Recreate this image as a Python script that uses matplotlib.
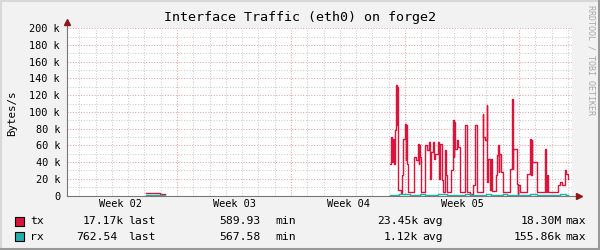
import numpy as np
import matplotlib
matplotlib.use("Agg")
import matplotlib.pyplot as plt
from matplotlib.patches import Rectangle
from matplotlib.lines import Line2D

nan = np.nan

# x axis in days, day 0 = start of week 02
title = "Interface Traffic (eth0) on forge2"
week_labels = ["Week 02", "Week 03", "Week 04", "Week 05"]
week_mid = [3.5, 10.5, 17.5, 24.5]
week_starts = [7, 14, 21, 28]
y_ticks = [0, 20, 40, 60, 80, 100, 120, 140, 160, 180, 200]   # k Bytes/s

# tx (k Bytes/s), step values starting at each day
tx_days = [0.25, 5.10, 5.96, 6.26,
           20.08, 20.12, 20.22, 20.26, 20.30, 20.39, 20.45, 20.49, 20.52, 20.55,
           20.75, 20.83, 20.90, 21.00, 21.04, 21.07, 21.10, 21.20, 21.57, 21.66,
           21.78, 21.83, 21.87, 21.90, 21.98, 22.23, 22.33, 22.49, 22.54, 22.60,
           22.74, 22.79, 22.84, 23.04, 23.09, 23.15, 23.25, 23.35, 23.46, 23.51,
           23.56, 23.82, 23.93, 23.98, 24.02, 24.07, 24.17, 24.27, 24.38, 24.68,
           24.83, 24.99, 25.19, 25.30, 25.44, 25.77, 25.81, 25.91, 26.02, 26.06,
           26.11, 26.22, 26.27, 26.32, 26.59, 26.63, 26.69, 26.74, 26.79, 26.89,
           27.04, 27.45, 27.55, 27.60, 27.65, 27.86, 27.91, 27.96, 28.06, 28.47,
           28.67, 28.72, 28.77, 28.82, 29.09, 29.60, 29.65, 29.70, 29.80, 30.41,
           30.52, 30.62, 30.72, 30.82, 30.89, 30.99, 31.03]
tx_k = [nan, 3.5, 1.5, nan,
        38, 70, 40, 68, 38, 78, 132, 84, 130, 6,
        3, 24, 68, 86, 42, 84, 38, 4, 46, 42,
        62, 38, 60, 46, 4, 60, 55, 64, 20, 52,
        64, 44, 50, 64, 20, 62, 18, 4, 54, 24,
        4, 30, 90, 46, 88, 56, 66, 58, 4, 84,
        4, 2, 12, 84, 4, 98, 70, 66, 108, 16,
        44, 6, 44, 5, 24, 48, 60, 28, 50, 28,
        4, 32, 116, 32, 56, 14, 2, 12, 4, 26,
        68, 24, 66, 40, 4, 56, 4, 24, 4, 12,
        16, 13, 12, 30, 26, 20, nan]

rx_days = [0.25, 5.10, 5.75, 5.80, 6.26,
           20.08, 20.60, 21.30, 21.90, 22.23, 23.00, 23.60, 24.68, 25.00,
           25.98, 26.30, 27.00, 27.25, 28.67, 29.09, 30.52, 30.90, 31.03]
rx_k = [nan, 1.0, 0.0, 1.0, nan,
        0.8, 2.2, 0.8, 2.2, 0.8, 2.2, 0.8, 2.2, 0.8,
        2.2, 0.8, 2.2, 0.8, 2.2, 0.8, 2.2, 0.8, nan]

series = ["tx", "rx"]
colors = ["#DC143C", "#20B2AA"]
last_vals = ["17.17k", "762.54"]
min_vals = ["589.93", "567.58"]
avg_vals = ["23.45k", "1.12k"]
max_vals = ["18.30M", "155.86k"]

W, H = 600, 250
fig = plt.figure(figsize=(6, 2.5), dpi=100, facecolor="#F2F2F2")
mono = "DejaVu Sans Mono"


def fx(px):
    return px / W


def fy(py):
    return 1 - py / H


ax = fig.add_axes([fx(67), fy(195.5), fx(572) - fx(67), fy(28.3) - fy(195.5)])
ax.set_facecolor("white")
ax.set_xlim(0.25, 31.25)
ax.set_ylim(0, 200)

ax.step(tx_days, tx_k, where="post", color=colors[0], lw=1.0, zorder=3)
ax.step(rx_days, rx_k, where="post", color=colors[1], lw=1.0, zorder=4)

# grid: days / weeks, 10k / 20k
ax.set_xticks(week_starts)
ax.set_xticks(np.arange(1, 32), minor=True)
ax.set_yticks(y_ticks)
ax.set_yticks(np.arange(10, 200, 20), minor=True)
ax.grid(which="minor", color="#cccccc", lw=0.75, ls=(0, (1, 1.6)))
ax.grid(which="major", color="#eba0a0", lw=0.75, ls=(0, (1, 1.6)))
ax.set_axisbelow(True)
ax.tick_params(which="both", length=0)
ax.set_xticklabels([])
ax.set_yticklabels(["0" if v == 0 else "%d k" % v for v in y_ticks],
                   family=mono, fontsize=7.4)
ax.tick_params(axis="y", pad=5)

for m, lab in zip(week_mid, week_labels):
    ax.text(m, -4.5, lab, ha="center", va="top", family=mono, fontsize=7.4)

for s in ["top", "right"]:
    ax.spines[s].set_visible(False)
for s in ["left", "bottom"]:
    ax.spines[s].set_color("#777777")
    ax.spines[s].set_linewidth(0.8)

# axis arrows
ax.plot([1.0, 1.012], [0, 0], transform=ax.transAxes, color="#777777", lw=0.8, clip_on=False)
ax.plot([0, 0], [1.0, 1.03], transform=ax.transAxes, color="#777777", lw=0.8, clip_on=False)
ax.plot([1.014], [0], transform=ax.transAxes, marker=">", color="#8B1A1A", ms=4.5, clip_on=False)
ax.plot([0], [1.035], transform=ax.transAxes, marker="^", color="#8B1A1A", ms=4.5, clip_on=False)

fig.text(0.5, fy(18), title, ha="center", va="center", family=mono, fontsize=9.6)
fig.text(fx(12), fy(113), "Bytes/s", rotation=90, ha="center", va="center", family=mono, fontsize=7.8)
fig.text(fx(591), fy(60), "RRDTOOL / TOBI OETIKER", rotation=270, ha="center", va="center",
         family=mono, fontsize=6, color="#a8a8a8")

# legend
row_y = [221.5, 236.5]
last_right = [124, 117]
for i in range(2):
    y = fy(row_y[i])
    fig.patches.append(Rectangle((fx(15), y - 4.5 / H), 9 / W, 9.5 / H, transform=fig.transFigure,
                                 facecolor=colors[i], edgecolor="black", lw=0.8))
    fig.text(fx(30), y, series[i], ha="left", va="center", family=mono, fontsize=8.2)
    fig.text(fx(last_right[i]), y, last_vals[i], ha="right", va="center", family=mono, fontsize=8.2)
    fig.text(fx(128), y, "last", ha="left", va="center", family=mono, fontsize=8.2)
    fig.text(fx(261), y, min_vals[i], ha="right", va="center", family=mono, fontsize=8.2)
    fig.text(fx(275), y, "min", ha="left", va="center", family=mono, fontsize=8.2)
    fig.text(fx(418), y, avg_vals[i], ha="right", va="center", family=mono, fontsize=8.2)
    fig.text(fx(422), y, "avg", ha="left", va="center", family=mono, fontsize=8.2)
    fig.text(fx(561.5), y, max_vals[i], ha="right", va="center", family=mono, fontsize=8.2)
    fig.text(fx(565), y, "max", ha="left", va="center", family=mono, fontsize=8.2)

# 3d frame
fig.add_artist(Line2D([0, 1], [fy(0.5), fy(0.5)], color="#d8d8d8", lw=1.5))
fig.add_artist(Line2D([fx(0.5), fx(0.5)], [0, 1], color="#d8d8d8", lw=1.5))
fig.add_artist(Line2D([0, 1], [fy(248.5), fy(248.5)], color="#999999", lw=2.2))
fig.add_artist(Line2D([fx(598.5), fx(598.5)], [0, 1], color="#999999", lw=2.2))

fig.savefig("out.png", dpi=100, facecolor=fig.get_facecolor())
